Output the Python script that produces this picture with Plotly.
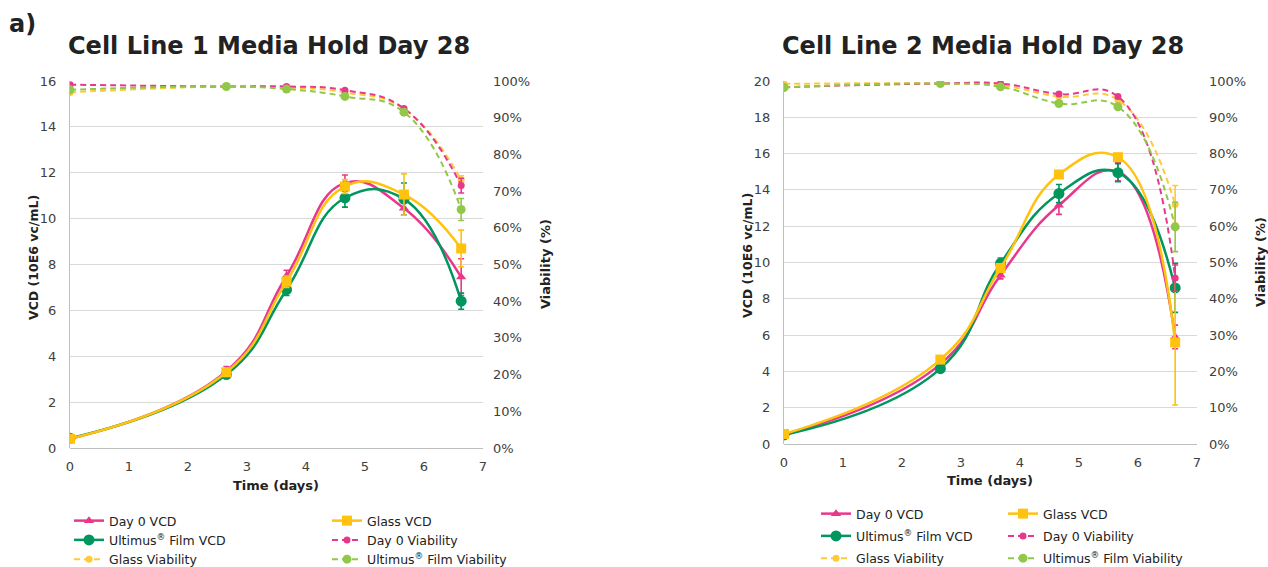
import plotly.graph_objects as go

# ---------------- data ----------------
time_days = [0, 2.65, 3.67, 4.66, 5.66, 6.63]

# Cell line 1
c1_day0_vcd = [0.40, 3.35, 7.50, 11.55, 10.45, 7.45]
c1_day0_vcd_err = [0.05, 0.20, 0.25, 0.35, 0.30, 0.80]
c1_glass_vcd = [0.40, 3.30, 7.25, 11.40, 11.05, 8.70]
c1_glass_vcd_err = [0.05, 0.15, 0.25, 0.30, 0.90, 0.80]
c1_ult_vcd = [0.42, 3.20, 6.90, 10.90, 10.85, 6.40]
c1_ult_vcd_err = [0.05, 0.15, 0.25, 0.40, 0.70, 0.35]
c1_day0_via = [0.990, 0.985, 0.985, 0.975, 0.925, 0.715]
c1_day0_via_err = [0.005, 0.003, 0.003, 0.004, 0.005, 0.020]
c1_glass_via = [0.969, 0.985, 0.982, 0.969, 0.924, 0.730]
c1_glass_via_err = [0.004, 0.003, 0.003, 0.004, 0.005, 0.012]
c1_ult_via = [0.976, 0.985, 0.978, 0.958, 0.915, 0.650]
c1_ult_via_err = [0.004, 0.003, 0.003, 0.004, 0.005, 0.030]

# Cell line 2
c2_day0_vcd = [0.50, 4.40, 9.30, 13.15, 15.00, 5.90]
c2_day0_vcd_err = [0.05, 0.15, 0.20, 0.50, 0.50, 0.65]
c2_glass_vcd = [0.55, 4.65, 9.70, 14.85, 15.80, 5.60]
c2_glass_vcd_err = [0.05, 0.10, 0.20, 0.20, 0.20, 3.45]
c2_ult_vcd = [0.50, 4.15, 9.95, 13.80, 14.95, 8.60]
c2_ult_vcd_err = [0.05, 0.10, 0.30, 0.50, 0.50, 1.35]
c2_day0_via = [0.983, 0.993, 0.993, 0.964, 0.957, 0.457]
c2_day0_via_err = [0.003, 0.002, 0.002, 0.004, 0.004, 0.036]
c2_glass_via = [0.992, 0.993, 0.988, 0.957, 0.948, 0.660]
c2_glass_via_err = [0.003, 0.002, 0.002, 0.004, 0.004, 0.052]
c2_ult_via = [0.982, 0.993, 0.984, 0.938, 0.929, 0.598]
c2_ult_via_err = [0.003, 0.002, 0.002, 0.006, 0.006, 0.068]

titles = ["Cell Line 1 Media Hold Day 28", "Cell Line 2 Media Hold Day 28"]
x_ticks = [0, 1, 2, 3, 4, 5, 6, 7]

# ---------------- styles ----------------
FONT = "DejaVu Sans"
PINK = "#E8388C"
YELLOW = "#FFC20E"
GREEN = "#00965E"
LGREEN = "#92C84A"
YELLOW_V = "#FFC93C"
GRID = "#D9D9D9"
TXT = "#404040"

W, H = 1268, 567
def px_x(p):
    return p / W
def px_y(p):
    return 1 - p / H

fig = go.Figure()

def add_series(x, y, err, name, color, symbol, msize, xa, ya, legend, dash=None, lw=2.5):
    fig.add_trace(go.Scatter(
        x=x, y=y, name=name, mode="lines+markers",
        line=dict(color=color, width=lw, shape="spline", smoothing=1.3, dash=dash),
        marker=dict(color=color, symbol=symbol, size=msize),
        error_y=dict(type="data", array=err, color=color, thickness=1.6, width=3),
        xaxis=xa, yaxis=ya, legend=legend, legendgroup=xa + ya + name, showlegend=True,
    ))

DASH = "6px,4px"
# Chart 1
add_series(time_days, c1_day0_vcd, c1_day0_vcd_err, "Day 0 VCD", PINK, "triangle-up", 9, "x", "y", "legend")
add_series(time_days, c1_ult_vcd, c1_ult_vcd_err, "Ultimus<sup>®</sup> Film VCD", GREEN, "circle", 11, "x", "y", "legend")
add_series(time_days, c1_glass_via, c1_glass_via_err, "Glass Viability", YELLOW_V, "circle", 7, "x", "y2", "legend", DASH, 2)
add_series(time_days, c1_glass_vcd, c1_glass_vcd_err, "Glass VCD", YELLOW, "square", 10, "x", "y", "legend2")
add_series(time_days, c1_day0_via, c1_day0_via_err, "Day 0 Viability", PINK, "circle", 7, "x", "y2", "legend2", DASH, 2)
add_series(time_days, c1_ult_via, c1_ult_via_err, "Ultimus<sup>®</sup> Film Viability", LGREEN, "circle", 9, "x", "y2", "legend2", DASH, 2)
# Chart 2
add_series(time_days, c2_day0_vcd, c2_day0_vcd_err, "Day 0 VCD", PINK, "triangle-up", 9, "x2", "y3", "legend3")
add_series(time_days, c2_ult_vcd, c2_ult_vcd_err, "Ultimus<sup>®</sup> Film VCD", GREEN, "circle", 11, "x2", "y3", "legend3")
add_series(time_days, c2_glass_via, c2_glass_via_err, "Glass Viability", YELLOW_V, "circle", 7, "x2", "y4", "legend3", DASH, 2)
add_series(time_days, c2_glass_vcd, c2_glass_vcd_err, "Glass VCD", YELLOW, "square", 10, "x2", "y3", "legend4")
add_series(time_days, c2_day0_via, c2_day0_via_err, "Day 0 Viability", PINK, "circle", 7, "x2", "y4", "legend4", DASH, 2)
add_series(time_days, c2_ult_via, c2_ult_via_err, "Ultimus<sup>®</sup> Film Viability", LGREEN, "circle", 9, "x2", "y4", "legend4", DASH, 2)

tickfont = dict(family=FONT, size=13, color=TXT)

def xaxis_cfg(x0, x1, anchor):
    return dict(domain=[px_x(x0), px_x(x1)], range=[0, 7], tickvals=x_ticks,
                showgrid=False, showline=False, zeroline=False, ticks="",
                tickfont=tickfont, ticklabelstandoff=9, anchor=anchor, fixedrange=True)

def yleft_cfg(y_top, y_bot, top, anchor):
    return dict(domain=[px_y(y_bot), px_y(y_top)], range=[0, top], dtick=2,
                showgrid=True, gridcolor=GRID, gridwidth=1.3, showline=True, linecolor="#BFBFBF",
                linewidth=1.3, zeroline=True, zerolinecolor="#BFBFBF", zerolinewidth=1.3,
                ticks="", tickfont=tickfont, ticklabelstandoff=10, anchor=anchor)

def yright_cfg(overlay, anchor, standoff):
    return dict(overlaying=overlay, side="right", range=[0, 1], dtick=0.1, tickformat=".0%",
                showgrid=False, showline=False, zeroline=False, ticks="",
                tickfont=tickfont, ticklabelstandoff=standoff, anchor=anchor)

legend_common = dict(orientation="v", bgcolor="rgba(0,0,0,0)", font=dict(family=FONT, size=12.5, color="#222"),
                     xanchor="left", yanchor="top", itemwidth=30)

fig.update_layout(
    width=W, height=H, margin=dict(l=0, r=0, t=0, b=0, autoexpand=False),
    paper_bgcolor="white", plot_bgcolor="white",
    font=dict(family=FONT, color="#222"),
    xaxis=xaxis_cfg(70, 483, "y"),
    yaxis=yleft_cfg(81, 448, 16, "x"),
    yaxis2=yright_cfg("y", "x", 9),
    xaxis2=xaxis_cfg(784, 1197, "y3"),
    yaxis3=yleft_cfg(81, 444, 20, "x2"),
    yaxis4=yright_cfg("y3", "x2", 11),
    legend=dict(legend_common, x=px_x(69), y=px_y(506), tracegroupgap=0),
    legend2=dict(legend_common, x=px_x(327), y=px_y(506), tracegroupgap=0),
    legend3=dict(legend_common, x=px_x(816), y=px_y(499), tracegroupgap=3),
    legend4=dict(legend_common, x=px_x(1003), y=px_y(499), tracegroupgap=3),
    showlegend=True,
)

annos = [
    dict(text="<b>a)</b>", x=px_x(7), y=px_y(24), xanchor="left", yanchor="middle", font=dict(size=24, color="#222")),
    dict(text="<b>" + titles[0] + "</b>", x=px_x(269), y=px_y(46), xanchor="center", yanchor="middle", font=dict(size=24, color="#222")),
    dict(text="<b>" + titles[1] + "</b>", x=px_x(983), y=px_y(46), xanchor="center", yanchor="middle", font=dict(size=24, color="#222")),
    dict(text="<b>Time (days)</b>", x=px_x(276), y=px_y(485), xanchor="center", yanchor="middle", font=dict(size=13, color="#222")),
    dict(text="<b>Time (days)</b>", x=px_x(990), y=px_y(480), xanchor="center", yanchor="middle", font=dict(size=13, color="#222")),
    dict(text="<b>VCD (10E6 vc/mL)</b>", x=px_x(33), y=px_y(258), textangle=-90, xanchor="center", yanchor="middle", font=dict(size=12.5, color="#222")),
    dict(text="<b>VCD (10E6 vc/mL)</b>", x=px_x(747), y=px_y(256), textangle=-90, xanchor="center", yanchor="middle", font=dict(size=12.5, color="#222")),
    dict(text="<b>Viability (%)</b>", x=px_x(545), y=px_y(264), textangle=-90, xanchor="center", yanchor="middle", font=dict(size=13, color="#222")),
    dict(text="<b>Viability (%)</b>", x=px_x(1260), y=px_y(262), textangle=-90, xanchor="center", yanchor="middle", font=dict(size=13, color="#222")),
]
for a in annos:
    a.update(xref="paper", yref="paper", showarrow=False)
    a["font"]["family"] = FONT
fig.update_layout(annotations=annos)

fig.write_html("out.html", config=dict(displayModeBar=False))
